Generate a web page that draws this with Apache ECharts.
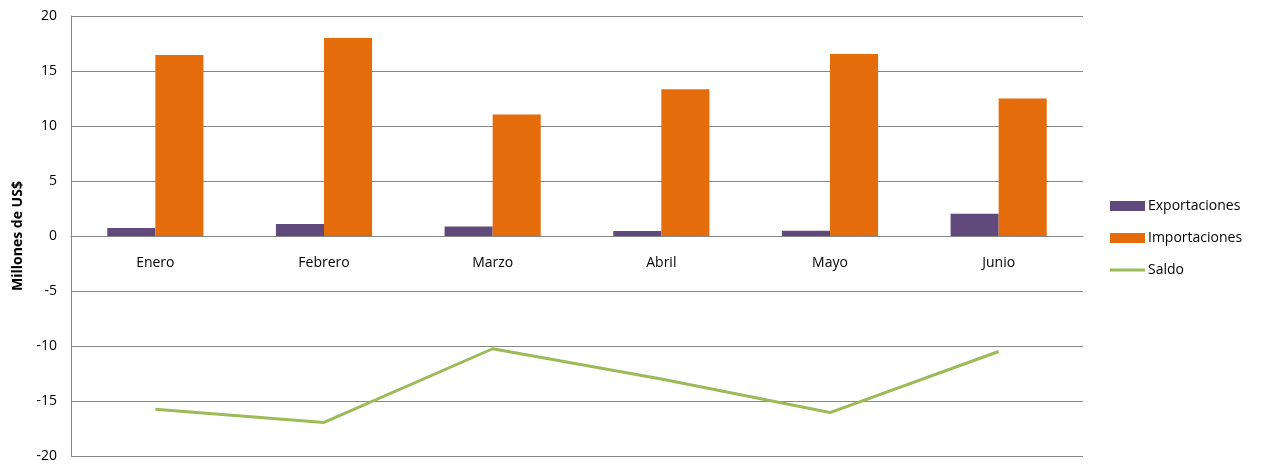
<!DOCTYPE html>
<html>
<head>
<meta charset="utf-8">
<script src="https://cdn.jsdelivr.net/npm/echarts@6/dist/echarts.min.js"></script>
<style>html,body{margin:0;padding:0;background:#fff}#c{width:1261px;height:464px}</style>
</head>
<body>
<div id="c"></div>
<script>
const categories = ['Enero', 'Febrero', 'Marzo', 'Abril', 'Mayo', 'Junio'];
const exportaciones = [0.72, 1.08, 0.87, 0.45, 0.48, 2.03];
const importaciones = [16.45, 18.0, 11.05, 13.35, 16.55, 12.5];
const saldo = [-15.75, -16.95, -10.25, -13.0, -16.05, -10.5];

const FONT = 'Open Sans';
const chart = echarts.init(document.getElementById('c'), null, {renderer: 'canvas'});
chart.setOption({
  animation: false,
  textStyle: {fontFamily: FONT},
  grid: {left: 71, right: 178, top: 16, bottom: 8, containLabel: false, outerBoundsMode: 'none'},
  legend: {
    orient: 'vertical', left: 1105, top: 194,
    itemWidth: 35, itemHeight: 10, itemGap: 18,
    textStyle: {fontFamily: FONT, fontSize: 14, color: '#000', padding: [0,0,0,-2]},
    data: [
      {name: 'Exportaciones', icon: 'rect'},
      {name: 'Importaciones', icon: 'rect'},
      {name: 'Saldo', icon: 'path://M0,0 L35,0 L35,3 L0,3 Z'}
    ]
  },
  xAxis: {
    type: 'category', data: categories,
    position: 'bottom', offset: -220,
    axisLine: {onZero: false, lineStyle: {color: '#868686', width: 1}},
    axisTick: {show: false},
    axisLabel: {fontFamily: FONT, fontSize: 14, color: '#000', margin: 20}
  },
  yAxis: {
    type: 'value', min: -20, max: 20, interval: 5,
    name: 'Millones de US$', nameLocation: 'middle', nameRotate: 90, nameGap: 46,
    nameTextStyle: {fontFamily: FONT, fontSize: 14, fontWeight: 'bold', color: '#000'},
    axisLine: {show: true, lineStyle: {color: '#868686'}},
    axisTick: {show: false},
    axisLabel: {fontFamily: FONT, fontSize: 14, color: '#000', margin: 14},
    splitLine: {lineStyle: {color: '#868686', width: 1}}
  },
  series: [
    {name: 'Exportaciones', type: 'bar', data: exportaciones, barGap: '0%', barCategoryGap: '43%',
     itemStyle: {color: '#604A7B'}},
    {name: 'Importaciones', type: 'bar', data: importaciones, barGap: '0%', barCategoryGap: '43%',
     itemStyle: {color: '#E46C0A'}},
    {name: 'Saldo', type: 'line', data: saldo, symbol: 'none', showSymbol: false,
     lineStyle: {color: '#9BBB59', width: 3}, itemStyle: {color: '#9BBB59'}}
  ]
});
</script>
</body>
</html>
